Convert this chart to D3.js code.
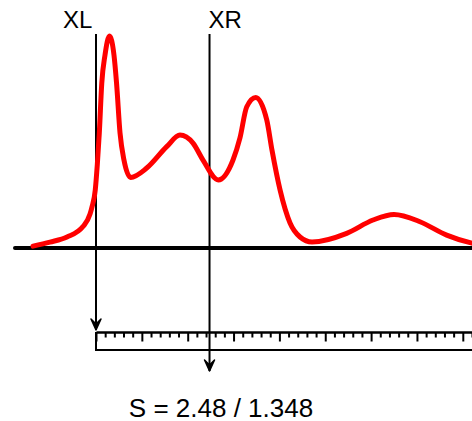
<!DOCTYPE html>
<html>
<head>
<meta charset="utf-8">
<script src="https://cdn.jsdelivr.net/npm/d3@7"></script>
<style>
  body { margin: 0; background: #fff; }
  svg { display: block; }
  text { font-family: "Liberation Sans", Arial, sans-serif; fill: #000; }
</style>
</head>
<body>
<svg id="chart" width="472" height="421"></svg>
<script>
// Curve samples (x in ruler units, y as relative density)
const curveX = [-6.87, -5.02, -3.16, -1.42, -0.65, -0.44, -0.08, 0.14, 0.36, 0.63,
  0.98, 1.47, 1.96, 2.24, 2.62, 3.05, 3.78, 5.53, 7.71, 9.16, 10.58, 11.67, 13.34,
  14.94, 15.70, 16.43, 17.42, 18.62, 19.19, 20.07, 21.16, 22.25, 23.56, 27.34,
  30.21, 32.50, 35.33, 38.24, 40.79, 41.88];
const curveY = [0.009, 0.028, 0.052, 0.101, 0.160, 0.193, 0.274, 0.392, 0.542, 0.778,
  0.910, 1.0, 0.910, 0.778, 0.542, 0.415, 0.333, 0.377, 0.478, 0.533, 0.495, 0.415, 0.321,
  0.415, 0.519, 0.665, 0.710, 0.604, 0.462, 0.274, 0.118, 0.052, 0.028, 0.069,
  0.132, 0.158, 0.124, 0.061, 0.025, 0.014];

// Cut markers
const markerNames = ["XL", "XR"];
const markerPos = [0, 12.38];

// Ruler
const rulerMax = 50;
const majorEvery = 5;

const caption = "S = 2.48 / 1.348";

/////////////////    Scales    /////////////////
const svg = d3.select("#chart");
const unit = 9.17;
const x = d3.scaleLinear().domain([0, rulerMax]).range([96, 96 + rulerMax * unit]);
const y = d3.scaleLinear().domain([0, 1]).range([248, 36]);

const baseY = y(0);
const rulerTop = 332;
const rulerBottom = 350;

// arrow head, drawn pointing along +x so orient=auto turns it down the line
svg.append("defs").append("marker")
  .attr("id", "arrow")
  .attr("viewBox", "-14 -7 16 14")
  .attr("refX", 0)
  .attr("refY", 0)
  .attr("markerUnits", "userSpaceOnUse")
  .attr("markerWidth", 16)
  .attr("markerHeight", 14)
  .attr("orient", "auto")
  .append("path")
  .attr("d", "M-11,-5 L0,0 L-11,5 L-6,0 Z")
  .attr("fill", "#000")
  .attr("stroke", "#000")
  .attr("stroke-width", 1.5)
  .attr("stroke-linejoin", "round");

const arrowEnd = [rulerTop - 2, 371];

svg.selectAll(".cut")
  .data(markerPos)
  .enter()
  .append("line")
  .attr("class", "cut")
  .attr("x1", d => x(d))
  .attr("x2", d => x(d))
  .attr("y1", 34)
  .attr("y2", (d, i) => arrowEnd[i])
  .attr("stroke", "#000")
  .attr("stroke-width", 2)
  .attr("marker-end", "url(#arrow)");

svg.selectAll(".cutlabel")
  .data(markerPos)
  .enter()
  .append("text")
  .attr("class", "cutlabel")
  .attr("x", (d, i) => i === 0 ? x(d) - 33 : x(d) - 1)
  .attr("y", 28)
  .attr("font-size", 24)
  .text((d, i) => markerNames[i]);

// Baseline
svg.append("line")
  .attr("x1", 15).attr("x2", 480)
  .attr("y1", baseY).attr("y2", baseY)
  .attr("stroke", "#000")
  .attr("stroke-width", 4)
  .attr("stroke-linecap", "round");

// Red curve
const pts = curveX.map((d, i) => [d, curveY[i]]);
svg.append("path")
  .datum(pts)
  .attr("fill", "none")
  .attr("stroke", "#ff0000")
  .attr("stroke-width", 5)
  .attr("stroke-linejoin", "round")
  .attr("stroke-linecap", "round")
  .attr("d", d3.line().x(d => x(d[0])).y(d => y(d[1])).curve(d3.curveMonotoneX));

/////////////////    Ruler    /////////////////
const minor = d3.axisBottom(x)
  .tickValues(d3.range(0, rulerMax + 1).filter(v => v % majorEvery !== 0))
  .tickSize(5.5)
  .tickSizeOuter(0)
  .tickFormat("");
const major = d3.axisBottom(x)
  .tickValues(d3.range(0, rulerMax + 1, majorEvery))
  .tickSize(9.5)
  .tickSizeOuter(0)
  .tickFormat("");

const gMinor = svg.append("g").attr("transform", `translate(0,${rulerTop})`).call(minor);
const gMajor = svg.append("g").attr("transform", `translate(0,${rulerTop})`).call(major);
gMajor.select(".domain").remove();
[gMinor, gMajor].forEach(g => {
  g.selectAll("line").attr("stroke", "#000").attr("stroke-width", 2);
});
gMinor.select(".domain").attr("stroke", "#000").attr("stroke-width", 2.5);

// bottom + left side of the ruler
svg.append("path")
  .attr("d", `M${x(0)},${rulerTop} V${rulerBottom} H${x(rulerMax)}`)
  .attr("fill", "none")
  .attr("stroke", "#000")
  .attr("stroke-width", 2);

// Caption
svg.append("text")
  .attr("x", 221)
  .attr("y", 416.5)
  .attr("text-anchor", "middle")
  .attr("font-size", 26)
  .text(caption);
</script>
</body>
</html>
